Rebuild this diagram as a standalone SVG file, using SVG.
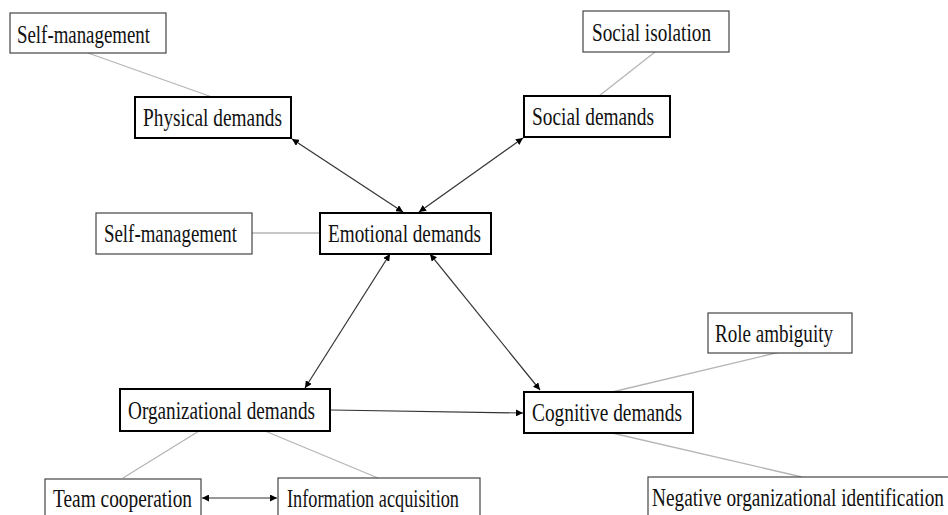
<svg xmlns="http://www.w3.org/2000/svg" width="948" height="515" viewBox="0 0 948 515">
<style>
.main{fill:#fff;stroke:#000;stroke-width:2}
.sub{fill:#fff;stroke:#444;stroke-width:1.2}
.t{font-family:"Liberation Serif","Times New Roman",serif;font-size:25px;fill:#111}
.arr{stroke:#333;stroke-width:1.2;fill:none}
.lnk{stroke:#b5b5b5;stroke-width:1.3;fill:none}
</style>
<defs>
<marker id="ah" viewBox="0 0 10 10" refX="10" refY="5" markerWidth="7" markerHeight="7" markerUnits="userSpaceOnUse" orient="auto-start-reverse">
<path d="M0,0 L10,5 L0,10 z" fill="#000"/>
</marker>
</defs>
<rect width="948" height="515" fill="#fff"/>
<g id="connectors">
<line class="lnk" x1="88" y1="53" x2="212" y2="97"/>
<line class="lnk" x1="655" y1="52" x2="599" y2="96"/>
<line class="lnk" x1="252" y1="233" x2="320" y2="233"/>
<line class="lnk" x1="199" y1="431" x2="123" y2="478"/>
<line class="lnk" x1="265" y1="431" x2="378" y2="478"/>
<line class="lnk" x1="780" y1="352" x2="612" y2="392"/>
<line class="lnk" x1="612" y1="433" x2="802" y2="477"/>
<line class="arr" x1="292" y1="139" x2="403" y2="212" marker-start="url(#ah)" marker-end="url(#ah)"/>
<line class="arr" x1="523" y1="138" x2="419" y2="212" marker-start="url(#ah)" marker-end="url(#ah)"/>
<line class="arr" x1="390" y1="254" x2="305" y2="388" marker-start="url(#ah)" marker-end="url(#ah)"/>
<line class="arr" x1="430" y1="254" x2="540" y2="390" marker-start="url(#ah)" marker-end="url(#ah)"/>
<line class="arr" x1="331" y1="410" x2="523" y2="413" marker-end="url(#ah)"/>
<line class="arr" x1="202" y1="498" x2="277" y2="498" marker-start="url(#ah)" marker-end="url(#ah)"/>
</g>
<g id="self-management-1"><rect class="sub" x="10" y="13" width="156" height="40"/><text class="t" x="17" y="43" textLength="133" lengthAdjust="spacingAndGlyphs">Self-management</text></g>
<g id="physical-demands"><rect class="main" x="135" y="97" width="156" height="41"/><text class="t" x="143" y="126" textLength="139" lengthAdjust="spacingAndGlyphs">Physical demands</text></g>
<g id="social-isolation"><rect class="sub" x="583" y="11" width="146" height="41"/><text class="t" x="592" y="41" textLength="119" lengthAdjust="spacingAndGlyphs">Social isolation</text></g>
<g id="social-demands"><rect class="main" x="524" y="96" width="146" height="41"/><text class="t" x="532" y="125" textLength="122" lengthAdjust="spacingAndGlyphs">Social demands</text></g>
<g id="self-management-2"><rect class="sub" x="96" y="213" width="156" height="41"/><text class="t" x="104" y="242" textLength="133" lengthAdjust="spacingAndGlyphs">Self-management</text></g>
<g id="emotional-demands"><rect class="main" x="320" y="213" width="171" height="41"/><text class="t" x="328" y="242" textLength="153" lengthAdjust="spacingAndGlyphs">Emotional demands</text></g>
<g id="organizational-demands"><rect class="main" x="120" y="389" width="210" height="42"/><text class="t" x="128" y="419" textLength="187" lengthAdjust="spacingAndGlyphs">Organizational demands</text></g>
<g id="cognitive-demands"><rect class="main" x="524" y="392" width="169" height="41"/><text class="t" x="532" y="421" textLength="150" lengthAdjust="spacingAndGlyphs">Cognitive demands</text></g>
<g id="role-ambiguity"><rect class="sub" x="708" y="313" width="144" height="40"/><text class="t" x="715" y="342" textLength="118" lengthAdjust="spacingAndGlyphs">Role ambiguity</text></g>
<g id="team-cooperation"><rect class="sub" x="45" y="479" width="156" height="42"/><text class="t" x="53" y="507" textLength="139" lengthAdjust="spacingAndGlyphs">Team cooperation</text></g>
<g id="information-acquisition"><rect class="sub" x="278" y="478" width="202" height="42"/><text class="t" x="287" y="507" textLength="172" lengthAdjust="spacingAndGlyphs">Information acquisition</text></g>
<g id="negative-organizational-identification"><rect class="sub" x="648" y="477" width="310" height="42"/><text class="t" x="652" y="506" textLength="292" lengthAdjust="spacingAndGlyphs">Negative organizational identification</text></g>
</svg>
